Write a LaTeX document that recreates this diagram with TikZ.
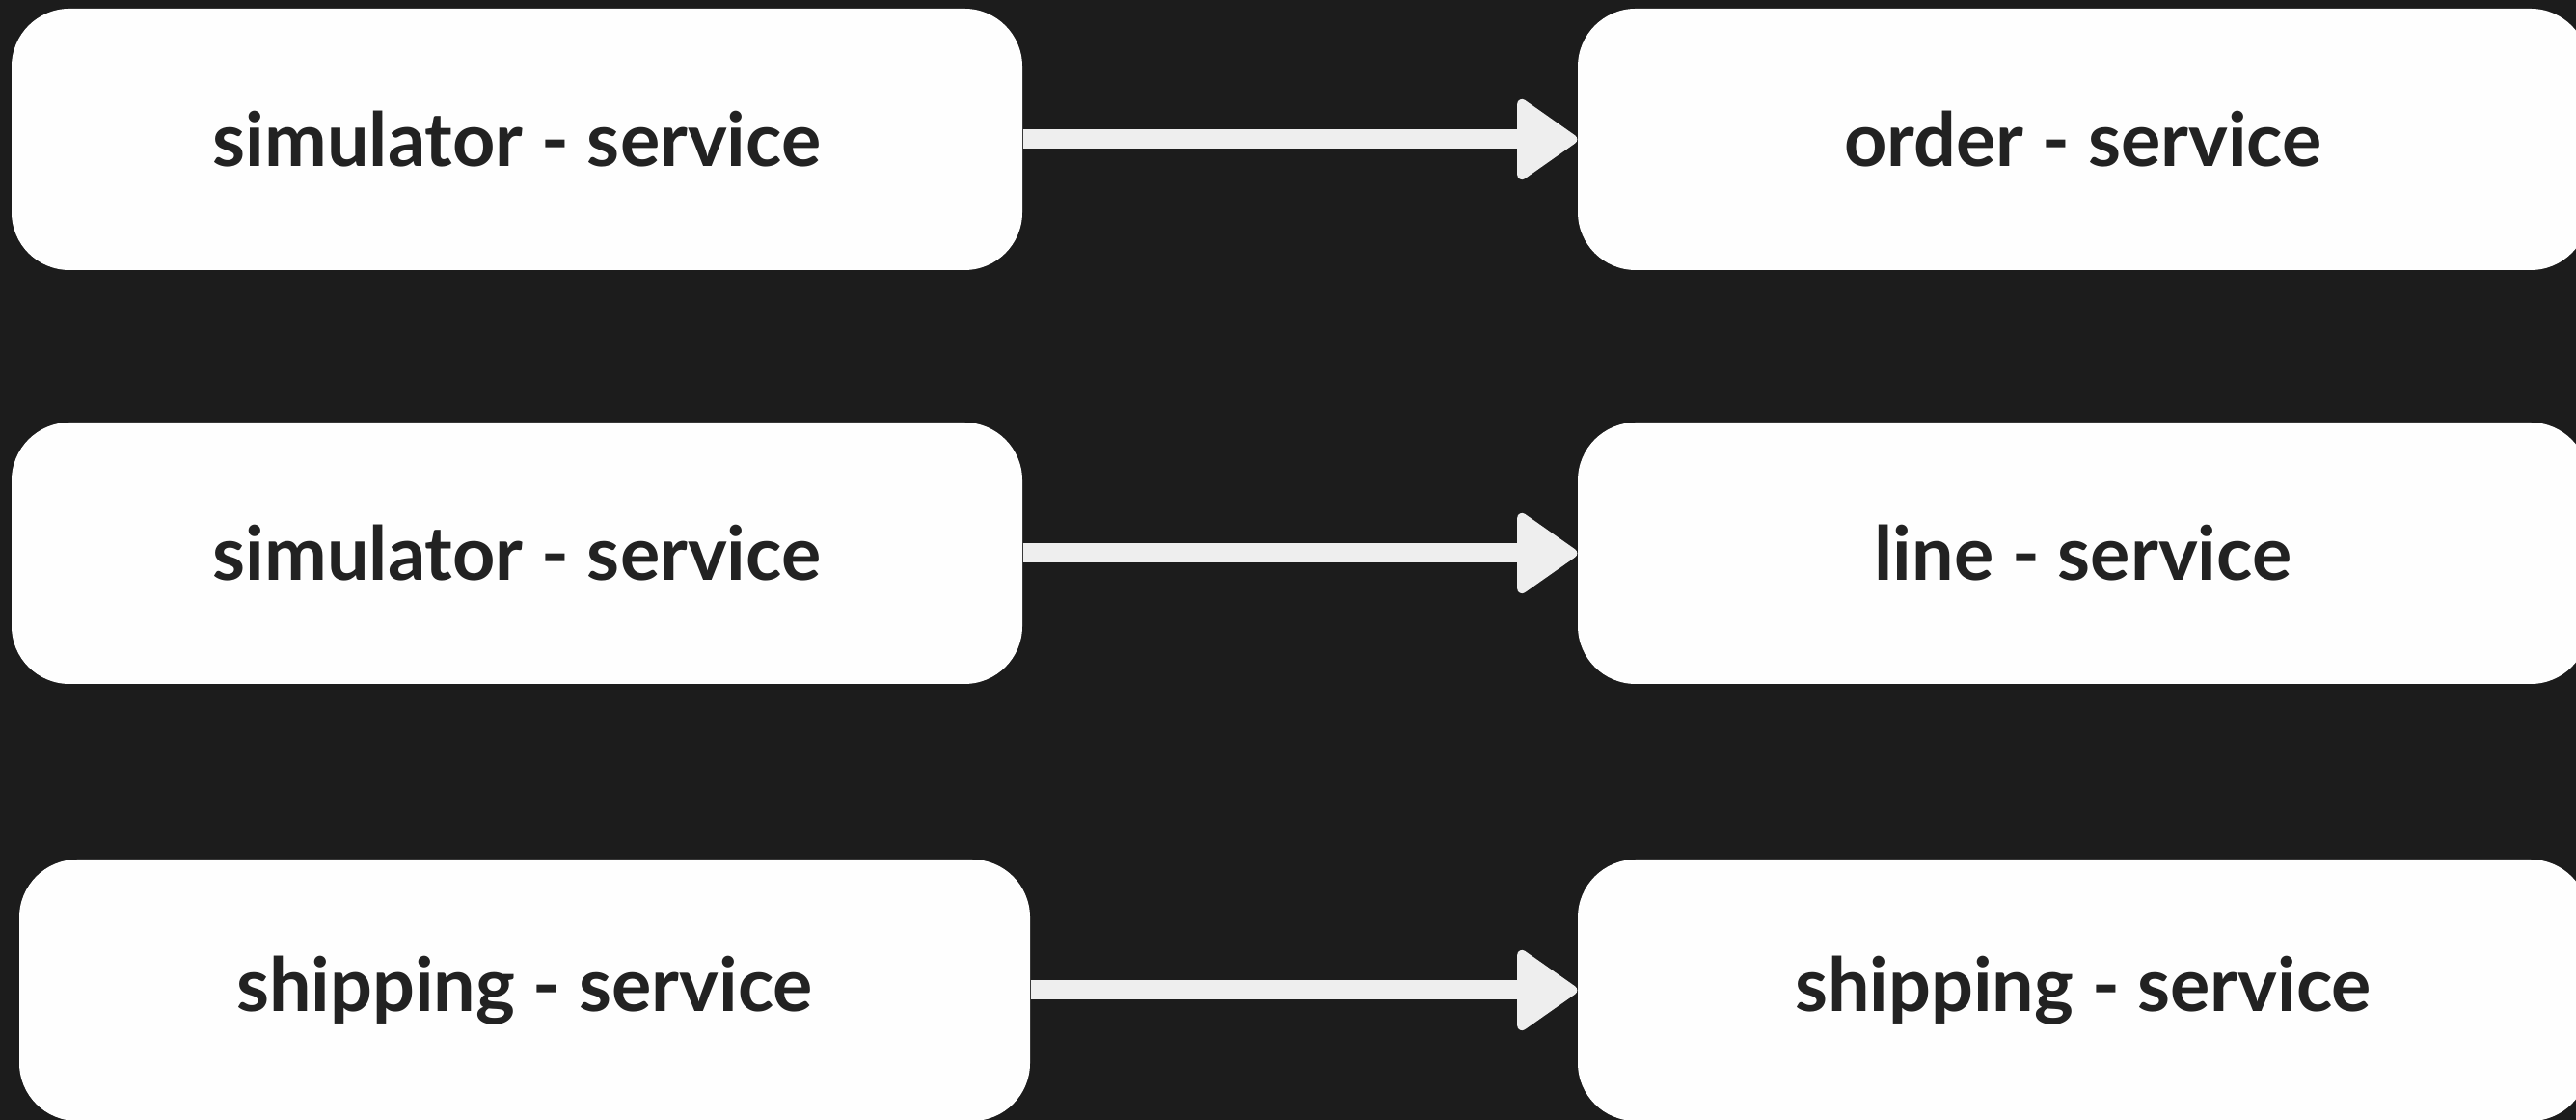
\documentclass[tikz,border=0pt]{standalone}
\usepackage{fontspec}
\setmainfont{Lato}
\usepackage{tikz}
\usetikzlibrary{positioning, calc, arrows.meta}
\definecolor{bgdark}{HTML}{1C1C1C}
\definecolor{boxwhite}{HTML}{FEFEFE}
\definecolor{txtdark}{HTML}{222222}
\definecolor{flowgray}{HTML}{EEEEEE}

\begin{document}
\begin{tikzpicture}[
    svc/.style={fill=boxwhite, rounded corners=0.6cm, minimum width=10.48cm, minimum height=2.71cm,
      inner sep=0pt, text=txtdark, font=\fontsize{22}{27}\selectfont\bfseries},
    flow/.style={draw=flowgray, line width=0.2cm,
      -{Triangle[length=0.66cm, width=0.9cm, line width=0.1cm, round, fill=flowgray]}}
  ]
      \fill[bgdark] (0,0) rectangle (26.71,11.61);
      \useasboundingbox (0,0) rectangle (26.71,11.61);
      \node[svc] (sim1) at (5.36,10.165) {simulator - service};
      \node[svc] (sim2) at (5.36,5.875) {simulator - service};
      \node[svc] (ship1) at (5.44,1.345) {shipping - service};
      \node[svc] (order) at (21.60,10.165) {order - service};
      \node[svc] (line) at (21.60,5.875) {line - service};
      \node[svc] (ship2) at (21.60,1.345) {shipping - service};
      \draw[flow] (sim1.east) -- (order.west);
      \draw[flow] (sim2.east) -- (line.west);
      \draw[flow] (ship1.east) -- (ship2.west);
    \end{tikzpicture}
\end{document}
